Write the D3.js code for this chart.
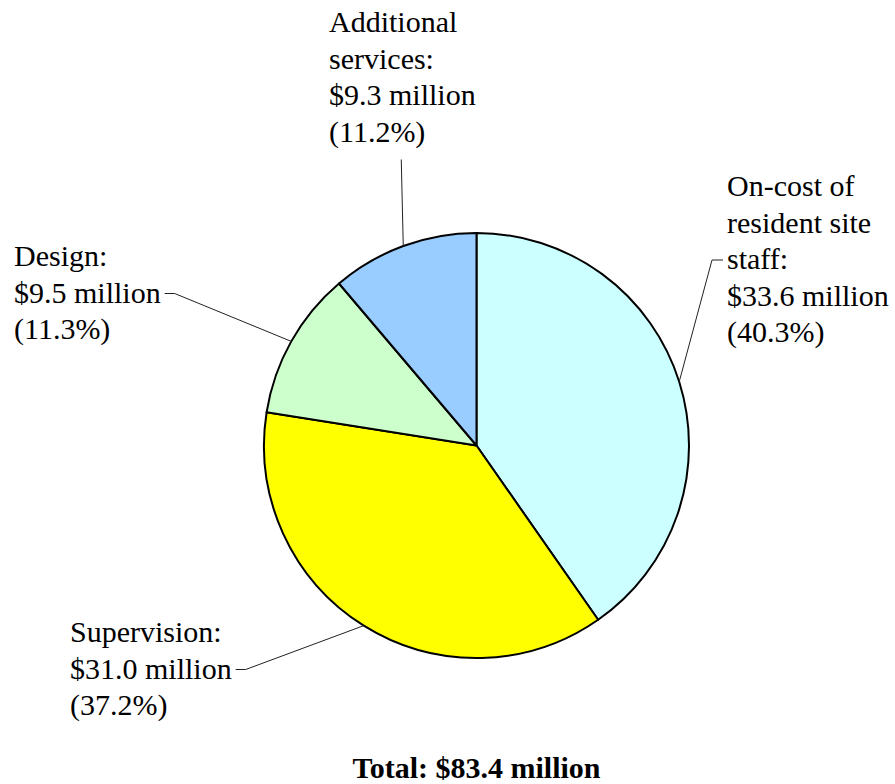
<!DOCTYPE html>
<html>
<head>
<meta charset="utf-8">
<script src="https://cdn.jsdelivr.net/npm/d3@7"></script>
</head>
<body style="margin:0">
<script>
const categories = ["On-cost of resident site staff", "Supervision", "Design", "Additional services"];
const values = [33.6, 31.0, 9.5, 9.3];           // $ million
const percents = [40.3, 37.2, 11.3, 11.2];
const colors = ["#ccffff", "#ffff00", "#ccffcc", "#99ccff"];
const labelLines = [
  ["On-cost of", "resident site", "staff:"],
  ["Supervision:"],
  ["Design:"],
  ["Additional", "services:"]
];
const total = "Total: $83.4 million";

const width = 895,
  height = 784,
  cx = 476.5, cy = 445.5, radius = 212.5,
  fontSize = 30, lineStep = 36.5;

// label placement: left x, first baseline, line that carries the leader, side of tick
const layout = [
  {x: 727, y: 196, lead: 2, side: "left"},
  {x: 70, y: 642, lead: 1, side: "right"},
  {x: 14, y: 266, lead: 1, side: "right"},
  {x: 329, y: 32, lead: null, side: "bottom"}
];

const ctx = document.createElement("canvas").getContext("2d");
ctx.font = fontSize + 'px "Liberation Serif"';

const svg = d3.select("body")
  .append("svg")
  .attr("width", width)
  .attr("height", height);

const pie = d3.pie().sort(null).value(d => d)(percents);
const arc = d3.arc().innerRadius(0).outerRadius(radius);

svg.append("g")
  .attr("transform", `translate(${cx},${cy})`)
  .selectAll("path")
  .data(pie)
  .join("path")
  .attr("d", arc)
  .attr("fill", (d, i) => colors[i])
  .attr("stroke", "#000")
  .attr("stroke-width", 2)
  .attr("stroke-linejoin", "round");

pie.forEach((p, i) => {
  const lines = labelLines[i].concat([`$${values[i].toFixed(1)} million`, `(${percents[i].toFixed(1)}%)`]);
  const L = layout[i];
  lines.forEach((s, j) => {
    svg.append("text")
      .attr("x", L.x)
      .attr("y", L.y + j * lineStep)
      .attr("font-size", fontSize)
      .style("font-family", "Liberation Serif")
      .text(s);
  });

  // leader line to the middle of the slice edge
  const mid = (p.startAngle + p.endAngle) / 2;
  const px = cx + radius * Math.sin(mid),
    py = cy - radius * Math.cos(mid);
  let pts;
  if (L.side === "bottom") {
    const by = L.y + (lines.length - 1) * lineStep + 18;
    pts = [[px - 2, by], [px, py]];
  } else {
    const w = ctx.measureText(lines[L.lead]).width;
    const ty = L.y + L.lead * lineStep - 9;
    if (L.side === "right") {
      const x0 = L.x + w + 4;
      pts = [[x0, ty], [x0 + 10, ty], [px, py]];
    } else {
      const x0 = L.x - 4;
      pts = [[x0, ty], [x0 - 11, ty], [px, py]];
    }
  }
  svg.append("path")
    .attr("d", d3.line()(pts))
    .attr("fill", "none")
    .attr("stroke", "#222")
    .attr("stroke-width", 1);
});

svg.append("text")
  .attr("x", cx)
  .attr("y", 778)
  .attr("text-anchor", "middle")
  .attr("font-size", fontSize)
  .attr("font-weight", "bold")
  .style("font-family", "Liberation Serif")
  .text(total);
</script>
</body>
</html>
